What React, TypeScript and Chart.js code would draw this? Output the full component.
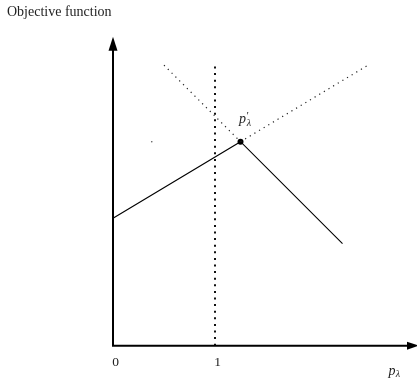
import React, { useEffect, useRef } from "react";
import { Chart, registerables } from "chart.js";

Chart.register(...registerables);

// Piecewise objective: rising branch meets falling branch at p'_λ
const solidX = [0, 1.25, 2.25];
const solidY = [1.25, 2, 1];
// Extensions of the two branches beyond the kink (dotted)
const fallExtX = [0.5, 1.25];
const fallExtY = [2.75, 2];
const riseExtX = [1.25, 2.5];
const riseExtY = [2, 2.75];
// Vertical reference at p_λ = 1
const refX = [1, 1];
const refY = [0, 2.75];
// Kink point and a stray mark
const kinkX = [1.25];
const kinkY = [2];
const strayX = [0.38];
const strayY = [2.0];
// Axes
const yAxisTop = 3.03;
const xAxisEnd = 3.0;
const xTicks = [0, 1];
const xTickLabels = ["0", "1"];
const yTitle = "Objective function";

const pts = (xs: number[], ys: number[]) => xs.map((x, i) => ({ x, y: ys[i] }));

const SERIF = "'Liberation Serif', 'DejaVu Serif', serif";

const decorPlugin = {
  id: "decor",
  afterDatasetsDraw(chart: any) {
    const { ctx, scales } = chart;
    const xs = scales.x;
    const ys = scales.y;
    const px = (v: number) => xs.getPixelForValue(v);
    const py = (v: number) => ys.getPixelForValue(v);
    ctx.save();
    ctx.fillStyle = "#000";
    // y-axis arrowhead
    const yx = px(0);
    const yt = py(yAxisTop);
    ctx.beginPath();
    ctx.moveTo(yx, yt);
    ctx.lineTo(yx - 4.5, yt + 14);
    ctx.lineTo(yx + 4.5, yt + 14);
    ctx.closePath();
    ctx.fill();
    // x-axis arrowhead
    const xy = py(0);
    const xt = px(xAxisEnd);
    ctx.beginPath();
    ctx.moveTo(xt, xy);
    ctx.lineTo(xt - 12, xy - 4);
    ctx.lineTo(xt - 12, xy + 4);
    ctx.closePath();
    ctx.fill();

    ctx.fillStyle = "#222";
    // tick labels
    ctx.font = `13.5px ${SERIF}`;
    ctx.textAlign = "center";
    ctx.textBaseline = "alphabetic";
    xTicks.forEach((t, i) => {
      ctx.fillText(xTickLabels[i], px(t) + 2.5, xy + 20.5);
    });

    // y title
    ctx.textAlign = "left";
    ctx.font = `14px ${SERIF}`;
    ctx.fillText(yTitle, 7, 16);

    // x label p_λ
    ctx.font = `italic 14px ${SERIF}`;
    const lx = px(2.7);
    const ly = xy + 29.5;
    ctx.fillText("p", lx, ly);
    const pw = ctx.measureText("p").width;
    ctx.font = `italic 10px ${SERIF}`;
    ctx.fillText("λ", lx + pw + 0.3, ly + 1.5);

    // kink label p'_λ
    ctx.font = `italic 14px ${SERIF}`;
    const kx = px(kinkX[0]) - 1.5;
    const ky = py(kinkY[0]) - 19;
    ctx.fillText("p", kx, ky);
    const kw = ctx.measureText("p").width;
    ctx.font = `11px ${SERIF}`;
    ctx.fillText("′", kx + kw + 0.5, ky - 3.5);
    ctx.font = `italic 10px ${SERIF}`;
    ctx.fillText("λ", kx + kw + 0.8, ky + 3);
    ctx.restore();
  },
};

export default function App() {
  const ref = useRef<HTMLCanvasElement>(null);
  useEffect(() => {
    if (!ref.current) return;
    const unit = 102;
    const W = 417;
    const H = 390;
    const originX = 113;
    const originY = 345.7;
    const chart = new Chart(ref.current, {
      type: "scatter",
      data: {
        datasets: [
          {
            data: [{ x: 0, y: yAxisTop - 0.1 }, { x: 0, y: 0 }, { x: xAxisEnd - 0.1, y: 0 }],
            showLine: true,
            borderColor: "#000",
            borderWidth: 2,
            pointRadius: 0,
            tension: 0,
          },
          {
            data: pts(refX, refY),
            showLine: true,
            borderColor: "#111",
            borderWidth: 2,
            borderDash: [2, 4.6],
            pointRadius: 0,
          },
          {
            data: pts(fallExtX, fallExtY),
            showLine: true,
            borderColor: "#222",
            borderWidth: 1.2,
            borderDash: [1.2, 4.2],
            pointRadius: 0,
          },
          {
            data: pts(riseExtX, riseExtY),
            showLine: true,
            borderColor: "#222",
            borderWidth: 1.2,
            borderDash: [1.2, 4.2],
            pointRadius: 0,
          },
          {
            data: pts(solidX, solidY),
            showLine: true,
            borderColor: "#000",
            borderWidth: 1.1,
            pointRadius: 0,
          },
          {
            data: pts(kinkX, kinkY),
            pointRadius: 3,
            pointBackgroundColor: "#000",
            pointBorderWidth: 0,
          },
          {
            data: pts(strayX, strayY),
            pointRadius: 0.8,
            pointBackgroundColor: "#555",
            pointBorderWidth: 0,
          },
        ],
      },
      options: {
        responsive: false,
        animation: false,
        layout: { padding: 0, autoPadding: false },
        plugins: { legend: { display: false }, tooltip: { enabled: false } },
        scales: {
          x: {
            type: "linear",
            display: false,
            min: -originX / unit,
            max: (W - originX) / unit,
          },
          y: {
            type: "linear",
            display: false,
            min: -(H - originY) / unit,
            max: originY / unit,
          },
        },
      },
      plugins: [decorPlugin],
    });
    return () => chart.destroy();
  }, []);
  return (
    <div style={{ position: "fixed", left: 0, top: 0, width: 417, height: 390, background: "#fff" }}>
      <canvas ref={ref} width={417} height={390} />
    </div>
  );
}
